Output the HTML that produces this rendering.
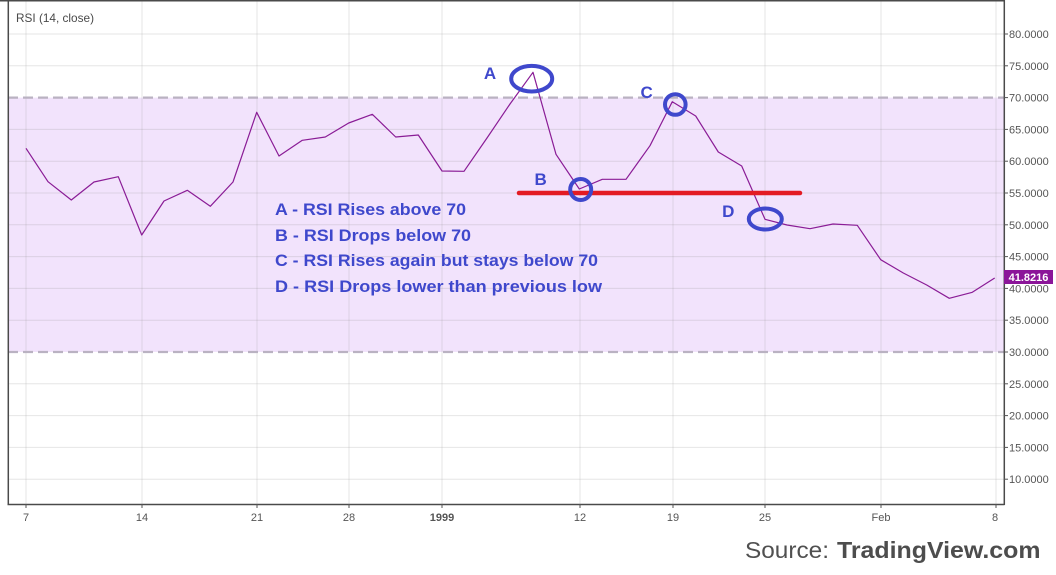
<!DOCTYPE html>
<html>
<head>
<meta charset="utf-8">
<style>
  html,body{margin:0;padding:0;background:#fff;}
  body{width:1056px;height:575px;overflow:hidden;}
  svg{display:block;}
  text{font-family:"Liberation Sans",sans-serif;}
</style>
</head>
<body>
<svg width="1056" height="575" viewBox="0 0 1056 575" xmlns="http://www.w3.org/2000/svg">
  <rect x="0" y="0" width="1056" height="575" fill="#ffffff"/>
  <!-- RSI band -->
  <rect x="8" y="97.6" width="996" height="254.4" fill="#f2e3fc"/>
  <!-- horizontal gridlines -->
  <g stroke="rgba(140,140,140,0.22)" stroke-width="1">
    <line x1="8" y1="34" x2="1004" y2="34"/>
    <line x1="8" y1="65.8" x2="1004" y2="65.8"/>
    <line x1="8" y1="129.4" x2="1004" y2="129.4"/>
    <line x1="8" y1="161.2" x2="1004" y2="161.2"/>
    <line x1="8" y1="193" x2="1004" y2="193"/>
    <line x1="8" y1="224.8" x2="1004" y2="224.8"/>
    <line x1="8" y1="256.6" x2="1004" y2="256.6"/>
    <line x1="8" y1="288.4" x2="1004" y2="288.4"/>
    <line x1="8" y1="320.2" x2="1004" y2="320.2"/>
    <line x1="8" y1="383.8" x2="1004" y2="383.8"/>
    <line x1="8" y1="415.6" x2="1004" y2="415.6"/>
    <line x1="8" y1="447.4" x2="1004" y2="447.4"/>
    <line x1="8" y1="479.2" x2="1004" y2="479.2"/>
  </g>
  <!-- vertical gridlines -->
  <g stroke="rgba(140,140,140,0.22)" stroke-width="1">
    <line x1="26" y1="0" x2="26" y2="504"/>
    <line x1="142" y1="0" x2="142" y2="504"/>
    <line x1="257" y1="0" x2="257" y2="504"/>
    <line x1="349" y1="0" x2="349" y2="504"/>
    <line x1="442" y1="0" x2="442" y2="504"/>
    <line x1="580" y1="0" x2="580" y2="504"/>
    <line x1="673" y1="0" x2="673" y2="504"/>
    <line x1="765" y1="0" x2="765" y2="504"/>
    <line x1="881" y1="0" x2="881" y2="504"/>
    <line x1="996" y1="0" x2="996" y2="504"/>
  </g>
  <!-- dashed 70 / 30 lines -->
  <g stroke="#bab2c2" stroke-width="2.2" stroke-dasharray="10,5">
    <line x1="8" y1="97.6" x2="1004" y2="97.6"/>
    <line x1="8" y1="352" x2="1004" y2="352"/>
  </g>
  <!-- RSI line -->
  <polyline fill="none" stroke="#8a1c96" stroke-width="1.2" stroke-linejoin="round"
    points="26,148.3 48,181.7 71.3,200 94,182 118.3,176.7 141.7,235 164,201 187.3,190.3 210.3,206.3 233,182 256.7,112.3 279,156 302.3,140.3 325.3,137 348.7,123 372.3,114.3 395.7,137 418.3,135 442,171 464,171.3 487,138 510,104 533,72.3 556,154.3 579.3,189 602.3,179.3 626,179.3 650,145.7 672.3,101.7 695.7,116 718.3,152 741.7,166 765,219.3 787,225 810,228.7 833,224 857.3,225.3 880.7,259.7 903.3,273 926.7,285 949.3,298.3 972.3,292.3 994.7,278"/>
  <!-- frame -->
  <g stroke="#4a4a4a" stroke-width="1.5" fill="none">
    <line x1="0" y1="0.8" x2="1004" y2="0.8"/>
    <line x1="8.3" y1="0" x2="8.3" y2="504.5"/>
    <line x1="7.5" y1="504.5" x2="1004.5" y2="504.5"/>
    <line x1="1004.3" y1="0" x2="1004.3" y2="505"/>
  </g>
  <!-- right ticks -->
  <g stroke="#555" stroke-width="1">
    <line x1="1004" y1="34" x2="1008" y2="34"/>
    <line x1="1004" y1="65.8" x2="1008" y2="65.8"/>
    <line x1="1004" y1="97.6" x2="1008" y2="97.6"/>
    <line x1="1004" y1="129.4" x2="1008" y2="129.4"/>
    <line x1="1004" y1="161.2" x2="1008" y2="161.2"/>
    <line x1="1004" y1="193" x2="1008" y2="193"/>
    <line x1="1004" y1="224.8" x2="1008" y2="224.8"/>
    <line x1="1004" y1="256.6" x2="1008" y2="256.6"/>
    <line x1="1004" y1="288.4" x2="1008" y2="288.4"/>
    <line x1="1004" y1="320.2" x2="1008" y2="320.2"/>
    <line x1="1004" y1="352" x2="1008" y2="352"/>
    <line x1="1004" y1="383.8" x2="1008" y2="383.8"/>
    <line x1="1004" y1="415.6" x2="1008" y2="415.6"/>
    <line x1="1004" y1="447.4" x2="1008" y2="447.4"/>
    <line x1="1004" y1="479.2" x2="1008" y2="479.2"/>
  </g>
  <!-- bottom ticks -->
  <g stroke="#555" stroke-width="1">
    <line x1="26" y1="504" x2="26" y2="508"/>
    <line x1="142" y1="504" x2="142" y2="508"/>
    <line x1="257" y1="504" x2="257" y2="508"/>
    <line x1="349" y1="504" x2="349" y2="508"/>
    <line x1="442" y1="504" x2="442" y2="508"/>
    <line x1="580" y1="504" x2="580" y2="508"/>
    <line x1="673" y1="504" x2="673" y2="508"/>
    <line x1="765" y1="504" x2="765" y2="508"/>
    <line x1="881" y1="504" x2="881" y2="508"/>
    <line x1="996" y1="504" x2="996" y2="508"/>
  </g>
  <!-- right labels -->
  <g fill="#555" font-size="11">
    <text x="1009" y="38">80.0000</text>
    <text x="1009" y="69.8">75.0000</text>
    <text x="1009" y="101.6">70.0000</text>
    <text x="1009" y="133.4">65.0000</text>
    <text x="1009" y="165.2">60.0000</text>
    <text x="1009" y="197">55.0000</text>
    <text x="1009" y="228.8">50.0000</text>
    <text x="1009" y="260.6">45.0000</text>
    <text x="1009" y="292.4">40.0000</text>
    <text x="1009" y="324.2">35.0000</text>
    <text x="1009" y="356">30.0000</text>
    <text x="1009" y="387.8">25.0000</text>
    <text x="1009" y="419.6">20.0000</text>
    <text x="1009" y="451.4">15.0000</text>
    <text x="1009" y="483.2">10.0000</text>
  </g>
  <!-- price label -->
  <rect x="1004" y="270" width="49" height="14" fill="#8b1599"/>
  <text x="1028.5" y="281" fill="#ffffff" font-size="11" font-weight="bold" text-anchor="middle">41.8216</text>
  <!-- bottom labels -->
  <g fill="#555" font-size="11" text-anchor="middle">
    <text x="26" y="521">7</text>
    <text x="142" y="521">14</text>
    <text x="257" y="521">21</text>
    <text x="349" y="521">28</text>
    <text x="442" y="521" font-weight="bold">1999</text>
    <text x="580" y="521">12</text>
    <text x="673" y="521">19</text>
    <text x="765" y="521">25</text>
    <text x="881" y="521">Feb</text>
    <text x="995" y="521">8</text>
  </g>
  <!-- title -->
  <text x="16" y="22" fill="#4a4a4a" font-size="12" textLength="78" lengthAdjust="spacingAndGlyphs">RSI (14, close)</text>
  <!-- red line -->
  <line x1="519" y1="193" x2="800" y2="193" stroke="#e31b23" stroke-width="4.5" stroke-linecap="round"/>
  <!-- ellipses -->
  <g fill="none" stroke="#3f48cc" stroke-width="4">
    <ellipse cx="531.7" cy="78.7" rx="20.5" ry="12.8"/>
    <circle cx="580.7" cy="189.5" r="10.5"/>
    <circle cx="675.3" cy="104.5" r="10.3"/>
    <ellipse cx="765.3" cy="219" rx="16.5" ry="10.5"/>
  </g>
  <!-- letter labels -->
  <g fill="#3f48cc" font-size="17" font-weight="bold" text-anchor="middle">
    <text x="490" y="79">A</text>
    <text x="646.7" y="98">C</text>
    <text x="540.7" y="185">B</text>
    <text x="728.3" y="217">D</text>
  </g>
  <!-- annotations -->
  <g fill="#3f48cc" font-size="17" font-weight="bold">
    <text x="275" y="215" textLength="191" lengthAdjust="spacingAndGlyphs">A - RSI Rises above 70</text>
    <text x="275" y="241" textLength="196" lengthAdjust="spacingAndGlyphs">B - RSI Drops below 70</text>
    <text x="275" y="266" textLength="323" lengthAdjust="spacingAndGlyphs">C - RSI Rises again but stays below 70</text>
    <text x="275" y="292" textLength="327" lengthAdjust="spacingAndGlyphs">D - RSI Drops lower than previous low</text>
  </g>
  <!-- source -->
  <text x="745" y="558" fill="#505050" font-size="23.5" textLength="84" lengthAdjust="spacingAndGlyphs">Source:</text>
  <text x="837" y="558" fill="#4d4d4d" font-size="23.5" font-weight="bold" textLength="203.5" lengthAdjust="spacingAndGlyphs">TradingView.com</text>
</svg>
</body>
</html>
